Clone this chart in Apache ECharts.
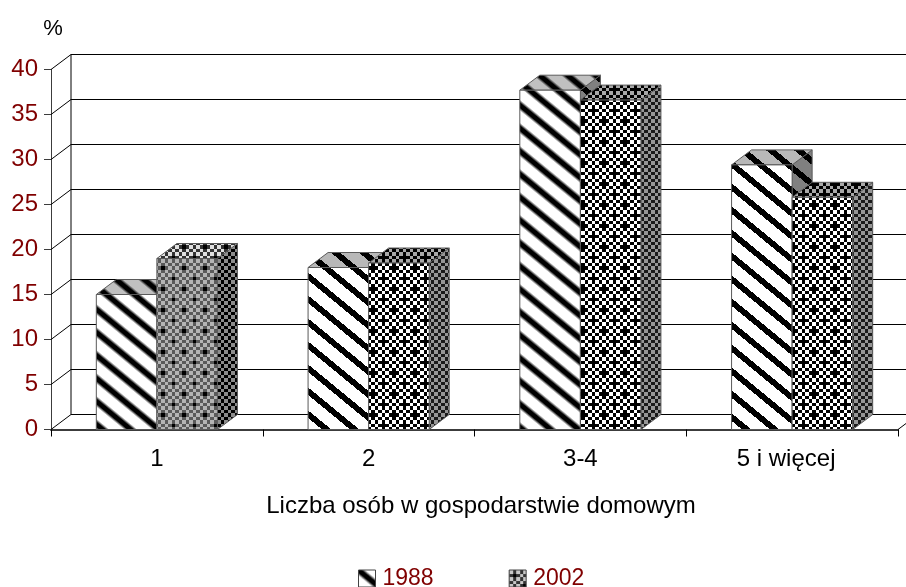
<!DOCTYPE html>
<html>
<head>
<meta charset="utf-8">
<style>
  html, body { margin: 0; padding: 0; background: #fff; }
  #chart { width: 906px; height: 587px; }
</style>
<script src="https://cdn.jsdelivr.net/npm/echarts@6/dist/echarts.min.js"></script>
</head>
<body>
<div id="chart"></div>
<script>
const categories = ['1', '2', '3-4', '5 i więcej']
const values1988 = [15, 18, 37.7, 29.4]
const values2002 = [19, 18.5, 36.6, 25.8]
const yTicks = [0, 5, 10, 15, 20, 25, 30, 35, 40]

// przesuniecie glebi wykresu 3D
const DEPTH_X = 20
const DEPTH_Y = 15
const DARK_RED = '#800000'
const FONT = '"Liberation Sans", Arial, sans-serif'

function makeTile (w, h, paint) {
  const canvas = document.createElement('canvas')
  canvas.width = w
  canvas.height = h
  paint(canvas.getContext('2d'), w, h)
  return { image: canvas, repeat: 'repeat' }
}

function stripeTile (light, dark, soft) {
  const w = 28
  const h = 23
  const a = parseInt(light.slice(1, 3), 16)
  const b = parseInt(dark.slice(1, 3), 16)
  return makeTile(w, h, (ctx) => {
    for (let y = 0; y < h; y++) {
      for (let x = 0; x < w; x++) {
        const u = (((x / w - y / h) % 1) + 1) % 1
        const d = Math.min(u, 1 - u)
        let t = d < 0.165 ? 1 : 0
        if (soft) {
          // rozmyte paski jak w kolumnach 1 i 3-4
          t = Math.max(0, Math.min(1, (0.25 - d) / 0.15))
        }
        const c = Math.round(a + (b - a) * t)
        ctx.fillStyle = 'rgb(' + c + ',' + c + ',' + c + ')'
        ctx.fillRect(x, y, 1, 1)
      }
    }
  })
}

function checkerTile (light, dark, plus) {
  // 6 komorek po 3.5 px na okres 21 px
  const edges = [0, 4, 7, 11, 14, 18, 21]
  return makeTile(21, 21, (ctx) => {
    const cell = (c, r, color) => {
      ctx.fillStyle = color
      ctx.fillRect(edges[c], edges[r], edges[c + 1] - edges[c], edges[r + 1] - edges[r])
    }
    for (let r = 0; r < 6; r++) {
      for (let c = 0; c < 6; c++) {
        cell(c, r, (c + r) % 2 === 0 ? light : dark)
      }
    }
    if (!plus) return
    // srodki krzyzykow, ramiona daje sama szachownica
    cell(1, 1, '#000000')
    cell(4, 4, '#000000')
  })
}

const stripeFront = stripeTile('#ffffff', '#000000', false)
const stripeTop = stripeTile('#b8b8b8', '#000000', false)
const stripeSide = stripeTile('#808080', '#000000', false)
const stripeFrontSoft = stripeTile('#ffffff', '#000000', true)
const stripeTopSoft = stripeTile('#c0c0c0', '#000000', true)
const checkFront = checkerTile('#ffffff', '#000000', true)
const checkTop = checkerTile('#a8a8a8', '#000000', true)
const checkSide = checkerTile('#969696', '#1a1a1a', false)
const checkFrontGray = checkerTile('#b4b4b4', '#5a5a5a', true)
const checkTopGray = checkerTile('#e0e0e0', '#333333', true)
const checkSideGray = checkerTile('#8c8c8c', '#000000', false)
const legend2002 = checkerTile('#c8c8c8', '#333333', true)

function face (points, fill) {
  return {
    type: 'polygon',
    shape: { points: points },
    style: { fill: fill, stroke: '#5a5a5a', lineWidth: 1 }
  }
}

function barItem (slot, faces) {
  return function (params, api) {
    const idx = api.value(0)
    const base = api.coord([idx, 0])
    const top = api.coord([idx, api.value(1)])
    const barW = api.size([1, 0])[0] * 0.286
    const x0 = base[0] + (slot === 0 ? -barW : 0)
    const x1 = x0 + barW
    const f = faces(idx)
    return {
      type: 'group',
      children: [
        face([[x1, base[1]], [x1 + DEPTH_X, base[1] - DEPTH_Y], [x1 + DEPTH_X, top[1] - DEPTH_Y], [x1, top[1]]], f.side),
        face([[x0, top[1]], [x0 + DEPTH_X, top[1] - DEPTH_Y], [x1 + DEPTH_X, top[1] - DEPTH_Y], [x1, top[1]]], f.top),
        face([[x0, base[1]], [x0, top[1]], [x1, top[1]], [x1, base[1]]], f.front)
      ]
    }
  }
}

function wallItem (params, api) {
  const value = api.value(0)
  const rect = params.coordSys
  const front = api.coord([0, value])
  const line = (x1, y1, x2, y2) => ({
    type: 'line',
    shape: { x1: x1, y1: y1, x2: x2, y2: y2 },
    style: { stroke: '#000', lineWidth: 1 }
  })
  const backY = front[1] - DEPTH_Y
  const right = rect.x + rect.width + DEPTH_X
  const children = [
    line(rect.x, front[1], rect.x + DEPTH_X, backY),
    line(rect.x + DEPTH_X, backY, right, backY)
  ]
  if (value === 0) {
    children.push(line(rect.x + DEPTH_X, backY, rect.x + DEPTH_X, backY - rect.height))
    children.push(line(rect.x + rect.width, front[1], right, backY))
  }
  return { type: 'group', children: children }
}

const softColumn = (idx) => idx === 0 || idx === 2

const chart = echarts.init(document.getElementById('chart'))
chart.setOption({
  animation: false,
  backgroundColor: '#fff',
  grid: { left: 51, top: 69.5, width: 847, height: 360, containLabel: false },
  legend: {
    left: 353,
    top: 562,
    itemWidth: 17,
    itemHeight: 17,
    itemGap: 75,
    selectedMode: false,
    textStyle: { color: DARK_RED, fontFamily: FONT, fontSize: 23, padding: [0, 0, 0, 2] },
    data: [
      { name: '1988', icon: 'rect', itemStyle: { color: stripeFrontSoft, borderColor: '#444', borderWidth: 1 } },
      { name: '2002', icon: 'rect', itemStyle: { color: legend2002, borderColor: '#444', borderWidth: 1 } }
    ]
  },
  xAxis: {
    type: 'category',
    // ostatnia etykieta lezy w oryginale nieco w lewo
    data: categories.map((name, i) => i === categories.length - 1
      ? { value: name, textStyle: { padding: [0, 12, 0, 0] } }
      : name),
    name: 'Liczba osób w gospodarstwie domowym',
    nameLocation: 'middle',
    nameGap: 65,
    nameTextStyle: { color: '#000', fontFamily: FONT, fontSize: 24, padding: [0, 0, 0, 13] },
    axisLine: { onZero: false, lineStyle: { color: '#3c3c3c', width: 2 } },
    axisTick: { show: true, alignWithLabel: false, length: 7, lineStyle: { color: '#000' } },
    axisLabel: { color: '#000', fontFamily: FONT, fontSize: 24, margin: 18 },
    splitLine: { show: false }
  },
  yAxis: {
    type: 'value',
    min: 0,
    max: 40,
    interval: 5,
    name: '%',
    nameLocation: 'end',
    nameGap: 30,
    nameTextStyle: { color: '#000', fontFamily: FONT, fontSize: 22, align: 'center', padding: [0, 0, 0, 4] },
    axisLine: { show: true, lineStyle: { color: '#3c3c3c', width: 1 } },
    axisTick: { show: true, length: 7, lineStyle: { color: '#3c3c3c' } },
    axisLabel: { color: DARK_RED, fontFamily: FONT, fontSize: 24, margin: 13, padding: [2, 0, 0, 0] },
    splitLine: { show: false }
  },
  series: [
    {
      type: 'custom',
      name: 'wall',
      silent: true,
      z: 1,
      clip: false,
      renderItem: wallItem,
      encode: { y: 0 },
      data: yTicks.map(v => [v])
    },
    {
      type: 'custom',
      name: '1988',
      z: 3,
      renderItem: barItem(0, (idx) => softColumn(idx)
        ? { front: stripeFrontSoft, top: stripeTopSoft, side: stripeSide }
        : { front: stripeFront, top: stripeTop, side: stripeSide }),
      encode: { x: 0, y: 1 },
      data: values1988.map((v, i) => [i, v])
    },
    {
      type: 'custom',
      name: '2002',
      z: 4,
      renderItem: barItem(1, (idx) => idx === 0
        ? { front: checkFrontGray, top: checkTopGray, side: checkSideGray }
        : { front: checkFront, top: checkTop, side: checkSide }),
      encode: { x: 0, y: 1 },
      data: values2002.map((v, i) => [i, v])
    }
  ]
})
</script>
</body>
</html>
